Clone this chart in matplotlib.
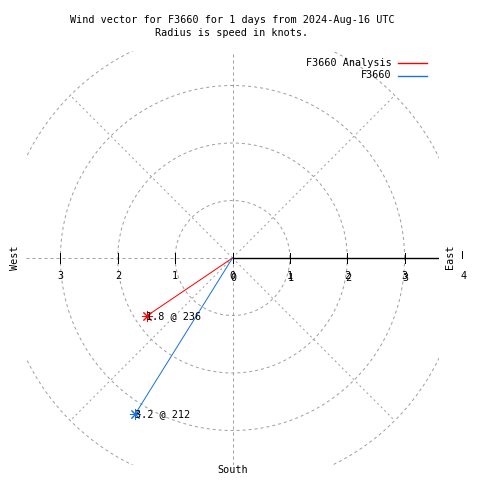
import numpy as np
import matplotlib
matplotlib.use("Agg")
import matplotlib.pyplot as plt
import matplotlib.transforms as mtransforms

# wind data
names = ["F3660 Analysis", "F3660"]
speeds = [1.8, 3.2]          # knots
directions = [236, 212]      # degrees, clockwise from north
colors = ["#ff0000", "#1874e0"]

rings = [1, 2, 3, 4]
tick_vals = [-3, -2, -1, 0, 1, 2, 3]
RMAX = 3.6

FONT = "DejaVu Sans Mono"
FS = 7.3
GRID = "#a0a0a0"
LW = 0.72

fig = plt.figure(figsize=(4.8, 4.8), dpi=100)
ax = fig.add_axes([26 / 480, 15 / 480, 413 / 480, 414 / 480])
ax.set_xlim(-RMAX, RMAX)
ax.set_ylim(-RMAX, RMAX)
ax.set_aspect("auto")
ax.axis("off")

# grid circles
t = np.linspace(0, 2 * np.pi, 721)
for r in rings:
    ax.plot(r * np.cos(t), r * np.sin(t), color=GRID, lw=LW, ls=(0, (3, 3)))

# diagonal spokes
for a in [45, 135, 225, 315]:
    ang = np.radians(a)
    ax.plot([0, 4 * np.cos(ang)], [0, 4 * np.sin(ang)], color=GRID, lw=LW, ls=(0, (2, 3)))

# axes lines
ax.plot([-RMAX, 0], [0, 0], color=GRID, lw=LW, ls=(0, (3, 3)))
ax.plot([0, 0], [-RMAX, RMAX], color=GRID, lw=LW, ls=(0, (3, 3)))
ax.plot([0, RMAX], [0, 0], color="black", lw=1.0)

# ticks and labels
off = mtransforms.offset_copy(ax.transData, fig=fig, x=1.2, y=-1.5, units="dots")
for v in tick_vals:
    ax.plot([v, v], [-0.09, 0.09], color="black", lw=LW)
    ax.text(v, -0.32, str(abs(v)), ha="center", va="center",
            fontsize=FS, family=FONT)
    if v >= 0:
        ax.text(v, -0.32, str(abs(v)), ha="center", va="center",
                fontsize=FS, family=FONT, transform=off)
ax.plot([4.0, 4.0], [0.0, 0.13], color="black", lw=LW, clip_on=False)
ax.text(4.03, -0.32, "4", ha="center", va="center", fontsize=FS, family=FONT, clip_on=False)

# compass labels
fig.text(450 / 480, 1 - 257 / 480, "East", rotation=90, ha="center", va="center",
         fontsize=FS, family=FONT)
fig.text(15 / 480, 1 - 258 / 480, "West", rotation=90, ha="center", va="center",
         fontsize=FS, family=FONT)
fig.text(233 / 480, 1 - 470 / 480, "South", ha="center", va="center",
         fontsize=FS, family=FONT)

# wind vectors
for name, spd, d, c in zip(names, speeds, directions, colors):
    x = spd * np.sin(np.radians(d))
    y = spd * np.cos(np.radians(d))
    ax.plot([0, x], [0, y], color=c, lw=LW)
    ax.plot([x], [y], marker=(8, 2, 0), color=c, ms=8, mew=LW)
    ax.text(x - 0.01, y, f"{spd:.1f} @ {d}", ha="left", va="center",
            fontsize=FS, family=FONT)

# legend
for i, (name, c) in enumerate(zip(names, colors)):
    yy = 1 - (63 + 12.5 * i) / 480
    fig.text(392 / 480, yy, name, ha="right", va="center", fontsize=FS, family=FONT)
    fig.add_artist(plt.Line2D([398 / 480, 427 / 480], [yy, yy], color=c, lw=1.0,
                              transform=fig.transFigure))

fig.text(232 / 480, 1 - 20 / 480, "Wind vector for F3660 for 1 days from 2024-Aug-16 UTC",
         ha="center", va="center", fontsize=FS, family=FONT)
fig.text(232 / 480, 1 - 32.5 / 480, "Radius is speed in knots.",
         ha="center", va="center", fontsize=FS, family=FONT)

fig.savefig("out.png", dpi=100, facecolor="white")
